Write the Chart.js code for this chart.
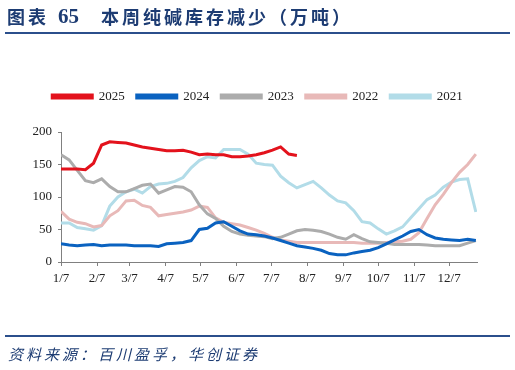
<!DOCTYPE html>
<html>
<head>
<meta charset="utf-8">
<script src="https://cdn.jsdelivr.net/npm/chart.js@4"></script>
<style>
  html, body { margin: 0; padding: 0; background: #fff; }
  #wrap { position: relative; width: 515px; height: 370px; overflow: hidden; }
  #chart { position: absolute; left: 0; top: 0; }
  .title { position: absolute; top: 4px; font-family: "Noto Sans CJK SC", sans-serif; font-weight: bold;
           font-size: 18px; color: #1d3c73; letter-spacing: 3px; white-space: nowrap; line-height: 24px; }
  .num { font-family: "Liberation Serif", serif; font-size: 21px; letter-spacing: 0; }
  .rule { position: absolute; left: 5px; width: 505px; height: 2px; background: #2b4f8c; }
  #source { position: absolute; left: 8px; top: 343px; font-family: "Noto Sans CJK SC", sans-serif;
            font-style: italic; font-size: 15px; color: #1d3c73; letter-spacing: 3px; white-space: nowrap; line-height: 22px; }
</style>
</head>
<body>
<div id="wrap">
  <canvas id="chart" width="515" height="370"></canvas>
  <div class="title" style="left:7px">图表</div>
  <div class="title num" style="left:58px">65</div>
  <div class="title" style="left:101px">本周纯碱库存减少（万吨）</div>
  <div class="rule" style="top:32px"></div>
  <div class="rule" style="top:335px"></div>
  <div id="source">资料来源：百川盈孚，华创证券</div>
</div>
<script>
// weekly readings, week 0 = 1/7
var years = ["2025", "2024", "2023", "2022", "2021"];
var colors = ["#e3121c", "#0a62c0", "#acacac", "#e8b9b8", "#b2dce8"];

var y2025 = [143, 143, 143, 142, 152, 180, 185, 184, 183, 180, 177, 175, 173, 171, 171, 172, 169, 165, 166, 165,
             165, 162, 162, 163, 165, 168, 172, 177, 166, 164];
var y2024 = [28, 26, 25, 26, 27, 25, 26, 26, 26, 25, 25, 25, 24, 28, 29, 30, 33, 50, 52, 60,
             62, 55, 48, 43, 42, 40, 37, 33, 29, 25, 23, 21, 18, 13, 11, 11, 14, 16, 18, 22,
             28, 34, 40, 47, 50, 42, 37, 35, 34, 33, 35, 33];
var y2023 = [165, 157, 141, 125, 122, 128, 116, 108, 108, 113, 118, 120, 106, 111, 116, 115, 108, 88, 74, 67,
             55, 47, 43, 41, 40, 39, 36, 38, 43, 48, 50, 49, 47, 43, 38, 35, 42, 36, 31, 30,
             29, 27, 27, 27, 27, 26, 25, 25, 25, 25, 29, 33];
var y2022 = [78, 66, 61, 59, 54, 56, 71, 79, 94, 95, 87, 84, 71, 73, 75, 77, 80, 86, 84, 68,
             61, 59, 57, 53, 49, 44, 38, 34, 32, 30, 30, 30, 30, 30, 30, 30, 30, 29, 29, 29,
             30, 31, 32, 35, 45, 67, 88, 104, 122, 138, 150, 166];
var y2021 = [60, 60, 53, 51, 49, 56, 86, 100, 108, 112, 106, 116, 120, 121, 124, 130, 145, 156, 162, 160,
             173, 173, 173, 166, 152, 150, 149, 132, 122, 114, 119, 124, 114, 103, 94, 91, 79, 62, 60, 51,
             43, 48, 54, 68, 82, 96, 103, 115, 123, 127, 128, 77];

var monthLabels = ["1/7", "2/7", "3/7", "4/7", "5/7", "6/7", "7/7", "8/7", "9/7", "10/7", "11/7", "12/7"];
var monthDays = [0, 31, 59, 90, 120, 151, 181, 212, 243, 273, 304, 334];
var yTicks = [0, 50, 100, 150, 200];

function toPoints(arr) {
  return arr.map(function (v, i) { return { x: i * 7, y: v }; });
}

var series = [y2025, y2024, y2023, y2022, y2021];
var datasets = series.map(function (s, k) {
  return {
    label: years[k],
    data: toPoints(s),
    borderColor: colors[k],
    backgroundColor: colors[k],
    borderWidth: 3,
    pointRadius: 0,
    tension: 0,
    fill: false
  };
});

var serif = "'Liberation Serif', 'Times New Roman', serif";
var axisColor = "#808080";

// legend is centred on the whole page, not on the plot box
var legendShift = {
  id: "legendShift",
  afterLayout: function (chart) {
    chart.legend.left += 19;
    chart.legend.right += 19;
  }
};

var ctx = document.getElementById("chart").getContext("2d");
var chart = new Chart(ctx, {
  type: "line",
  data: { datasets: datasets },
  plugins: [legendShift],
  options: {
    responsive: false,
    animation: false,
    layout: { padding: { top: 78, left: 0, right: 38, bottom: 0 } },
    plugins: {
      legend: {
        display: true,
        position: "top",
        labels: {
          boxWidth: 40,
          boxHeight: 3,
          padding: 12,
          color: "#222",
          font: { family: serif, size: 13 }
        }
      },
      tooltip: { enabled: false }
    },
    scales: {
      x: {
        type: "linear",
        min: 0,
        max: 358,
        afterBuildTicks: function (axis) {
          axis.ticks = monthDays.map(function (d) { return { value: d }; });
        },
        afterFit: function (axis) { axis.height = 108; },
        ticks: {
          autoSkip: false,
          maxRotation: 0,
          padding: 5,
          color: "#222",
          font: { family: serif, size: 13 },
          callback: function (v, i) { return monthLabels[i]; }
        },
        grid: { drawOnChartArea: false, drawTicks: true, tickLength: 4, color: axisColor },
        border: { display: true, color: axisColor, width: 1 }
      },
      // empty band between legend and plot
      gap: {
        type: "linear",
        position: "top",
        axis: "x",
        afterFit: function (axis) { axis.height = 19; },
        ticks: { display: false },
        grid: { display: false },
        border: { display: false }
      },
      y: {
        min: 0,
        max: 200,
        afterBuildTicks: function (axis) {
          axis.ticks = yTicks.map(function (v) { return { value: v }; });
        },
        afterFit: function (axis) { axis.width = 61; },
        ticks: {
          padding: 6,
          color: "#222",
          font: { family: serif, size: 13 }
        },
        grid: { drawOnChartArea: false, drawTicks: true, tickLength: 3, color: axisColor },
        border: { display: true, color: axisColor, width: 1 }
      }
    }
  }
});
</script>
</body>
</html>
